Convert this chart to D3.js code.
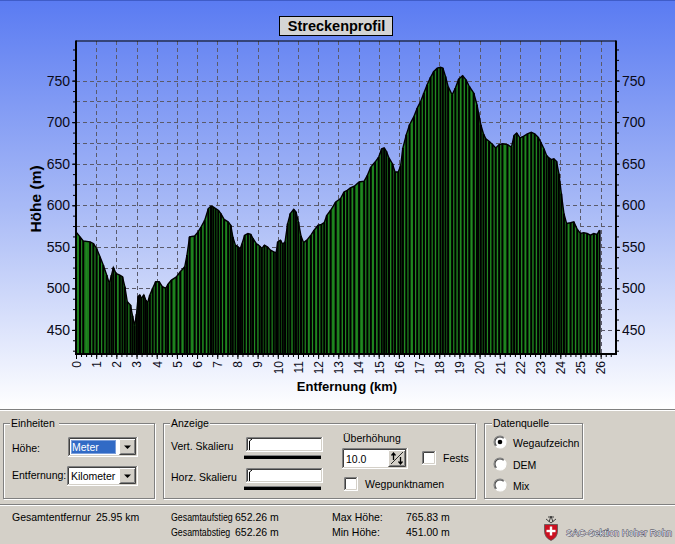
<!DOCTYPE html>
<html><head><meta charset="utf-8">
<script src="https://cdn.jsdelivr.net/npm/d3@7"></script>
<style>body{margin:0;overflow:hidden;background:#d4d0c8}text{font-family:"Liberation Sans",Arial,sans-serif}</style>
</head><body>
<script>
// ---- data ----
const distanceKm = [0.00,0.20,0.36,0.70,0.86,1.02,1.19,1.35,1.52,1.65,1.76,1.85,1.98,2.17,2.30,2.42,2.54,2.70,2.80,2.90,3.00,3.08,3.16,3.24,3.36,3.46,3.54,3.66,3.80,3.95,4.12,4.28,4.45,4.56,4.73,4.98,5.17,5.39,5.50,5.63,5.88,6.05,6.20,6.38,6.56,6.69,6.80,6.92,7.05,7.18,7.34,7.54,7.67,7.77,7.90,8.03,8.13,8.23,8.36,8.52,8.66,8.77,8.93,9.10,9.21,9.34,9.48,9.64,9.80,9.92,10.00,10.13,10.25,10.36,10.49,10.62,10.79,10.90,11.02,11.15,11.28,11.44,11.64,11.80,12.00,12.16,12.30,12.43,12.62,12.87,13.11,13.28,13.44,13.60,13.79,14.03,14.28,14.44,14.61,14.82,15.00,15.15,15.27,15.38,15.51,15.68,15.81,15.97,16.09,16.20,16.37,16.53,16.75,16.91,17.08,17.24,17.40,17.57,17.73,17.90,18.06,18.18,18.31,18.44,18.64,18.80,18.97,19.16,19.33,19.49,19.71,19.87,19.94,20.06,20.19,20.31,20.47,20.64,20.80,20.97,21.13,21.38,21.58,21.71,21.84,22.00,22.17,22.37,22.56,22.73,22.90,23.03,23.19,23.32,23.44,23.55,23.68,23.81,23.93,24.05,24.18,24.31,24.51,24.67,24.84,25.00,25.16,25.33,25.49,25.66,25.82,25.95];
const elevationM = [568,562,557,556,554,548,538,528,516,506,516,525,518,516,514,502,484,480,467,455,469,490,492,488,492,486,482,492,500,508,508,502,500,505,510,514,520,526,540,562,563,568,574,582,596,599,598,596,594,590,583,580,576,562,552,550,547,554,564,566,565,560,554,551,548,552,550,546,544,543,556,558,553,556,578,590,595,592,580,563,555,558,564,570,576,577,579,588,594,604,608,616,618,621,623,628,629,636,646,652,658,668,669,665,657,650,640,640,648,669,685,697,707,717,725,735,745,754,761,765,766,765,755,743,733,741,752,756,751,743,735,721,712,697,686,680,677,673,669,673,674,673,670,684,687,681,683,686,688,686,682,676,668,660,657,655,656,653,638,614,590,578,579,580,571,566,567,566,564,566,565,570];
const yTickLabels = [450,500,550,600,650,700,750];
const xTickLabels = [0,1,2,3,4,5,6,7,8,9,10,11,12,13,14,15,16,17,18,19,20,21,22,23,24,25,26];
const chartTitle = "Streckenprofil";
const xTitle = "Entfernung (km)";
const yTitle = "Höhe (m)";
const statsLeft = [["Gesamtentfernur","25.95 km"]];
const statsMid = [["Gesamtaufstieg","652.26 m"],["Gesamtabstieg","652.26 m"]];
const statsRight = [["Max Höhe:","765.83 m"],["Min Höhe:","451.00 m"]];
const radioLabels = ["Wegaufzeichn","DEM","Mix"];

const W = 675, H = 544;
const svg = d3.select("body").append("svg").attr("width", W).attr("height", H);
const defs = svg.append("defs");
const grad = defs.append("linearGradient").attr("id","bg").attr("gradientUnits","userSpaceOnUse")
  .attr("x1",0).attr("y1",0).attr("x2",0).attr("y2",409);
grad.append("stop").attr("offset",0).attr("stop-color","#5a7bf2");
grad.append("stop").attr("offset",0.5).attr("stop-color","#a7b9f6");
grad.append("stop").attr("offset",1).attr("stop-color","#ffffff");

svg.append("rect").attr("width",W).attr("height",409).attr("fill","url(#bg)");
svg.append("rect").attr("y",409).attr("width",W).attr("height",H-409).attr("fill","#d4d0c8");
svg.append("line").attr("x1",0).attr("x2",W).attr("y1",0.5).attr("y2",0.5).attr("stroke","#3f5cc8");

// ---- chart ----
const x = d3.scaleLinear().domain([0, 26.76]).range([76, 616]);
const y = d3.scaleLinear().domain([421, 797.7]).range([354, 41]);
const data = distanceKm.map((d,i)=>({km:d, h:elevationM[i]}));
const g = svg.append("g");

// grid
g.append("g").selectAll("line").data(d3.range(450, 751, 25)).join("line")
  .attr("x1",76).attr("x2",616).attr("y1",d=>Math.round(y(d))+0.5).attr("y2",d=>Math.round(y(d))+0.5)
  .attr("stroke","#5a5a6a").attr("stroke-dasharray","4,3");
g.append("g").selectAll("line").data(xTickLabels.slice(1)).join("line")
  .attr("x1",d=>Math.round(x(d))+0.5).attr("x2",d=>Math.round(x(d))+0.5).attr("y1",41).attr("y2",354)
  .attr("stroke","#5a5a6a").attr("stroke-dasharray","4,3");

// profile area
g.append("path").datum(data)
  .attr("d", d3.area().x(d=>x(d.km)).y0(354).y1(d=>y(d.h)))
  .attr("fill","#1b7b1b");
// lighter highlight in middle of bars
g.append("g").selectAll("line").data(data.slice(0,-1)).join("line")
  .attr("x1",(d,i)=>(x(d.km)+x(data[i+1].km))/2).attr("x2",(d,i)=>(x(d.km)+x(data[i+1].km))/2)
  .attr("y1",354).attr("y2",(d,i)=>(y(d.h)+y(data[i+1].h))/2+1)
  .attr("stroke","#2b9b2b").attr("stroke-width",0.8).attr("opacity",0.6);
// bar edges at each sample
g.append("g").selectAll("line").data(data).join("line")
  .attr("x1",d=>x(d.km)).attr("x2",d=>x(d.km)).attr("y1",354).attr("y2",d=>y(d.h))
  .attr("stroke","#000").attr("stroke-width",2);
g.append("path").datum(data)
  .attr("d", d3.line().x(d=>x(d.km)).y(d=>y(d.h)))
  .attr("fill","none").attr("stroke","#000").attr("stroke-width",1.4);

// frame
g.append("line").attr("x1",76).attr("x2",616).attr("y1",41).attr("y2",41).attr("stroke","#000").attr("stroke-width",1.2);
g.append("line").attr("x1",76).attr("x2",76).attr("y1",40.5).attr("y2",355).attr("stroke","#000").attr("stroke-width",2);
g.append("line").attr("x1",616).attr("x2",616).attr("y1",40.5).attr("y2",355).attr("stroke","#000").attr("stroke-width",2);
g.append("line").attr("x1",75).attr("x2",617).attr("y1",354).attr("y2",354).attr("stroke","#000").attr("stroke-width",2);

const labelColor = "#0a0a18";
function styleAxis(sel){ sel.select(".domain").remove(); sel.selectAll("line").attr("stroke","#000"); sel.selectAll("text").attr("fill",labelColor).attr("font-family",'"Liberation Sans",Arial,sans-serif'); }
const minorY = d3.range(425, 797, 12.5);
g.append("g").attr("transform","translate(76,0)")
  .call(d3.axisLeft(y).tickValues(minorY).tickSize(3).tickFormat("")).call(styleAxis);
g.append("g").attr("transform","translate(76,0)")
  .call(d3.axisLeft(y).tickValues(yTickLabels).tickSize(4).tickPadding(2)).call(styleAxis)
  .selectAll("text").attr("font-size",14);
g.append("g").attr("transform","translate(616,0)")
  .call(d3.axisRight(y).tickValues(minorY).tickSize(3).tickFormat("")).call(styleAxis);
g.append("g").attr("transform","translate(616,0)")
  .call(d3.axisRight(y).tickValues(yTickLabels).tickSize(4).tickPadding(2)).call(styleAxis)
  .selectAll("text").attr("font-size",14);
g.append("g").attr("transform","translate(0,354)")
  .call(d3.axisBottom(x).tickValues(d3.range(0, 26.6, 0.25)).tickSize(3).tickFormat("")).call(styleAxis);
const xa = g.append("g").attr("transform","translate(0,354)")
  .call(d3.axisBottom(x).tickValues(xTickLabels).tickSize(5)).call(styleAxis);
xa.selectAll("text").attr("font-size",12).attr("transform","rotate(-90)")
  .attr("x",-7).attr("y",0).attr("dy","0.36em").attr("text-anchor","end");

// titles
svg.append("text").attr("x",347).attr("y",391).attr("text-anchor","middle")
  .attr("font-size",13).attr("font-weight","bold").attr("fill","#000").text(xTitle);
svg.append("text").attr("transform","translate(41,199) rotate(-90)").attr("text-anchor","middle")
  .attr("font-size",15.5).attr("font-weight","bold").attr("fill","#000").text(yTitle);
svg.append("rect").attr("x",279.5).attr("y",16.5).attr("width",113).attr("height",19)
  .attr("fill","#d4d4d4").attr("stroke","#000");
svg.append("text").attr("x",336.5).attr("y",31).attr("text-anchor","middle")
  .attr("font-size",14.5).attr("font-weight","bold").attr("fill","#000").text(chartTitle);

// ---- bottom panel ----
const p = svg.append("g").attr("font-size",10.5);
function hline(y0,x0,x1,c){ p.append("line").attr("x1",x0).attr("x2",x1).attr("y1",y0).attr("y2",y0).attr("stroke",c); }
hline(409.5,0,W,"#808080"); hline(410.5,0,W,"#ffffff");
hline(504.5,0,W,"#808080"); hline(505.5,0,W,"#ffffff");

function groupBox(x0,y0,w,h,label,lx,lw){
  p.append("rect").attr("x",x0+1.5).attr("y",y0+1.5).attr("width",w).attr("height",h).attr("fill","none").attr("stroke","#fff");
  p.append("rect").attr("x",x0+0.5).attr("y",y0+0.5).attr("width",w).attr("height",h).attr("fill","none").attr("stroke","#808080");
  p.append("rect").attr("x",lx-1).attr("y",y0-5).attr("width",lw).attr("height",10).attr("fill","#d4d0c8");
  p.append("text").attr("x",lx).attr("y",y0+4).attr("fill","#000").text(label);
}
groupBox(3,423,151,75,"Einheiten",11,49);
groupBox(163,423,312,75,"Anzeige",171,40);
groupBox(484,423,98,75,"Datenquelle",493,58);

function sunken(x0,y0,w,h,fill){
  p.append("rect").attr("x",x0).attr("y",y0).attr("width",w).attr("height",h).attr("fill",fill||"#fff");
  p.append("path").attr("d",`M${x0+.5},${y0+h-1}V${y0+.5}H${x0+w-1}`).attr("fill","none").attr("stroke","#808080");
  p.append("path").attr("d",`M${x0+1.5},${y0+h-2}V${y0+1.5}H${x0+w-2}`).attr("fill","none").attr("stroke","#404040");
  p.append("path").attr("d",`M${x0+.5},${y0+h-.5}H${x0+w-.5}V${y0}`).attr("fill","none").attr("stroke","#fff");
  p.append("path").attr("d",`M${x0+1.5},${y0+h-1.5}H${x0+w-1.5}V${y0+1}`).attr("fill","none").attr("stroke","#d4d0c8");
}
function raised(x0,y0,w,h){
  p.append("rect").attr("x",x0).attr("y",y0).attr("width",w).attr("height",h).attr("fill","#d4d0c8");
  p.append("path").attr("d",`M${x0+.5},${y0+h-1}V${y0+.5}H${x0+w-1}`).attr("fill","none").attr("stroke","#fff");
  p.append("path").attr("d",`M${x0+.5},${y0+h-.5}H${x0+w-.5}V${y0}`).attr("fill","none").attr("stroke","#404040");
  p.append("path").attr("d",`M${x0+1.5},${y0+h-1.5}H${x0+w-1.5}V${y0+1}`).attr("fill","none").attr("stroke","#808080");
}
function combo(x0,y0,w,h,label,selected){
  sunken(x0,y0,w,h);
  if(selected){
    p.append("rect").attr("x",x0+3).attr("y",y0+3).attr("width",w-25).attr("height",h-6).attr("fill","#316ac5");
    p.append("rect").attr("x",x0+3.5).attr("y",y0+3.5).attr("width",w-26).attr("height",h-7).attr("fill","none").attr("stroke","#c8d4f0").attr("stroke-dasharray","1,1");
  }
  p.append("text").attr("x",x0+4).attr("y",y0+h-6).attr("fill",selected?"#fff":"#000").text(label);
  raised(x0+w-19,y0+2,17,h-4);
  const cx=x0+w-10.5, cy=y0+h/2;
  p.append("path").attr("d",`M${cx-3.5},${cy-1.5}H${cx+3.5}L${cx},${cy+2}Z`).attr("fill","#000");
}
p.append("text").attr("x",12).attr("y",452).attr("fill","#000").text("Höhe:");
combo(68,437,70,20,"Meter",true);
p.append("text").attr("x",12).attr("y",479).attr("fill","#000").text("Entfernung:");
combo(67,466,71,20,"Kilometer",false);

function slider(y0,label){
  p.append("text").attr("x",171).attr("y",y0+13).attr("fill","#000").text(label);
  sunken(246,y0,77,15);
  p.append("path").attr("d",`M249.5,${y0+13}V${y0+4}L252,${y0+2}`).attr("fill","none").attr("stroke","#000");
  p.append("rect").attr("x",244).attr("y",y0+19).attr("width",77).attr("height",3).attr("fill","#000");
  p.append("rect").attr("x",244).attr("y",y0+18).attr("width",77).attr("height",1).attr("fill","#808080");
}
slider(437,"Vert. Skalieru");
slider(468,"Horz. Skalieru");

p.append("text").attr("x",343).attr("y",442).attr("fill","#000").text("Überhöhung");
sunken(342,448,66,21);
p.append("text").attr("x",346).attr("y",463).attr("fill","#000").text("10.0");
raised(388,450,18,17);
p.append("path").attr("d","M391,464L403,452").attr("stroke","#000").attr("stroke-width",0.8);
p.append("path").attr("d","M393.5,460V453M391.5,455.5L393.5,453L395.5,455.5").attr("fill","none").attr("stroke","#000").attr("stroke-width",1.3);
p.append("path").attr("d","M400.5,457V464M398.5,461.5L400.5,464L402.5,461.5").attr("fill","none").attr("stroke","#000").attr("stroke-width",1.3);

function checkbox(x0,y0,label){ sunken(x0,y0,14,14); p.append("text").attr("x",x0+21).attr("y",y0+11).attr("fill","#000").text(label); }
checkbox(422,451,"Fests");
checkbox(344,477,"Wegpunktnamen");

const arcTL = d3.arc().innerRadius(5.5).outerRadius(6.5).startAngle(-Math.PI*3/4).endAngle(Math.PI/4);
const arcBR = d3.arc().innerRadius(5.5).outerRadius(6.5).startAngle(Math.PI/4).endAngle(Math.PI*5/4);
const arcTL2 = d3.arc().innerRadius(4.5).outerRadius(5.5).startAngle(-Math.PI*3/4).endAngle(Math.PI/4);
const radioY = [442,464,485];
radioLabels.forEach((lab,i)=>{
  const rg = p.append("g").attr("transform",`translate(500,${radioY[i]})`);
  rg.append("circle").attr("r",6).attr("fill","#fff");
  rg.append("path").attr("d",arcTL()).attr("fill","#808080");
  rg.append("path").attr("d",arcTL2()).attr("fill","#404040");
  rg.append("path").attr("d",arcBR()).attr("fill","#fff");
  if(i===0) rg.append("circle").attr("r",2.3).attr("fill","#000");
  p.append("text").attr("x",513).attr("y",radioY[i]+4.5).attr("fill","#000").text(lab);
});

// stats
p.append("text").attr("x",12).attr("y",521).attr("fill","#000").text(statsLeft[0][0]);
p.append("text").attr("x",96).attr("y",521).attr("fill","#000").text(statsLeft[0][1]);
statsMid.forEach((s,i)=>{
  p.append("text").attr("transform",`translate(171,${521+i*15}) scale(0.84,1)`).attr("fill","#000").text(s[0]);
  p.append("text").attr("x",235).attr("y",521+i*15).attr("fill","#000").text(s[1]);
});
statsRight.forEach((s,i)=>{
  p.append("text").attr("x",332).attr("y",521+i*15).attr("fill","#000").text(s[0]);
  p.append("text").attr("x",406).attr("y",521+i*15).attr("fill","#000").text(s[1]);
});

// logo
const lg = p.append("g");
lg.append("path").attr("d","M549,522L551,516L553,522M546,519L551,523L556,519M548,517L554,517").attr("fill","none").attr("stroke","#333").attr("stroke-width",0.9);
lg.append("path").attr("d","M544.5,524.5H557.5V531Q557.5,537.5 551,540.5Q544.5,537.5 544.5,531Z").attr("fill","#cc1020").attr("stroke","#555").attr("stroke-width",0.8);
lg.append("rect").attr("x",549.8).attr("y",526.5).attr("width",2.4).attr("height",9).attr("fill","#fff");
lg.append("rect").attr("x",546.5).attr("y",529.8).attr("width",9).attr("height",2.4).attr("fill","#fff");
p.append("text").attr("x",566).attr("y",536).attr("font-size",9.5).attr("textLength",106).attr("lengthAdjust","spacingAndGlyphs")
  .attr("fill","#eeeef4").attr("stroke","#3a3a50").attr("stroke-width",0.9).attr("paint-order","stroke").text("SAC-Sektion Hoher Rohn");
</script>
</body></html>
